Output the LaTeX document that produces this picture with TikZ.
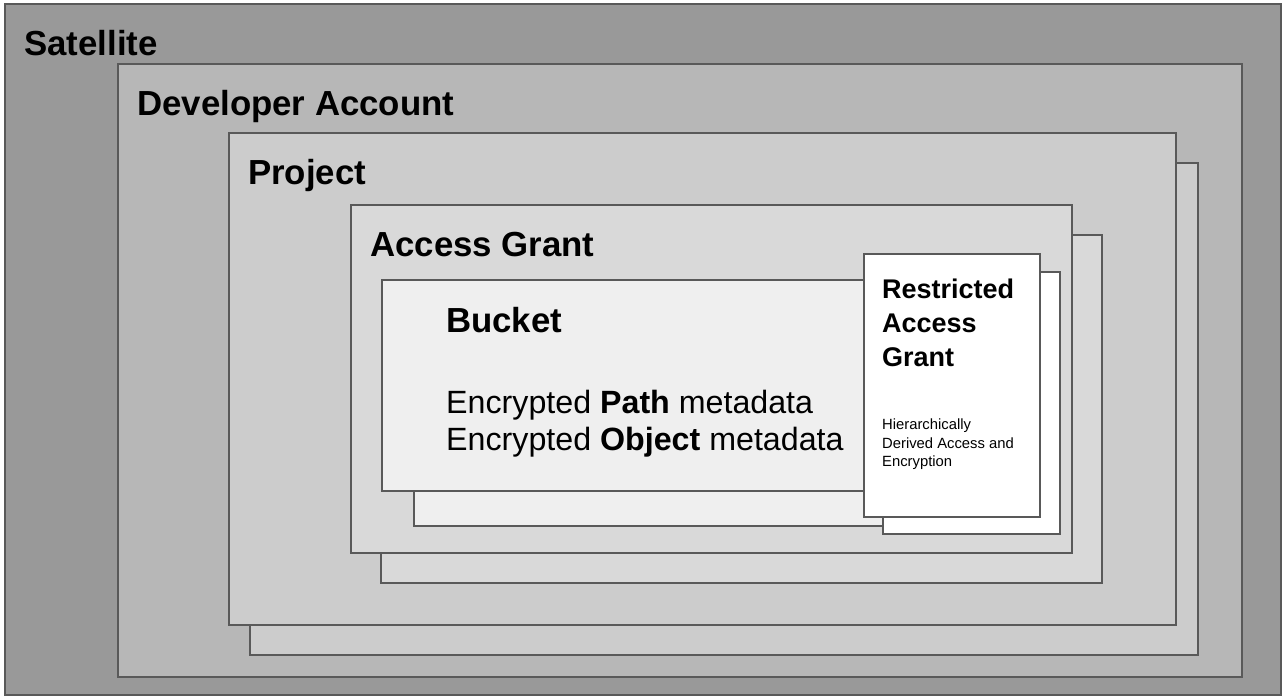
\documentclass[tikz,border=0pt]{standalone}
\usepackage{fontspec}
\setmainfont{Liberation Sans}
\usetikzlibrary{positioning}

\definecolor{satgray}{HTML}{999999}
\definecolor{devgray}{HTML}{B7B7B7}
\definecolor{projgray}{HTML}{CCCCCC}
\definecolor{grantgray}{HTML}{D9D9D9}
\definecolor{bucketgray}{HTML}{EFEFEF}
\definecolor{edgegray}{HTML}{595959}

\begin{document}
\begin{tikzpicture}[x=1pt, y=-1pt,
  layer/.style={draw=edgegray, line width=1.8pt},
  title/.style={anchor=base west, inner sep=0pt, font=\bfseries\fontsize{34.8}{40}\selectfont},
  body/.style={anchor=base west, inner sep=0pt, align=left, font=\fontsize{32.2}{37}\selectfont},
  subtitle/.style={anchor=base west, inner sep=0pt, align=left, font=\bfseries\fontsize{27}{34}\selectfont},
  note/.style={anchor=base west, inner sep=0pt, align=left, font=\fontsize{14.8}{18.5}\selectfont}]
  \useasboundingbox (0,0) rectangle (1286,700);
  \fill[white] (0,0) rectangle (1286,700);
  % Layers
  \path[layer, fill=satgray] (5,4) rectangle (1281,695);
  \path[layer, fill=devgray] (118,64) rectangle (1242,677);
  \path[layer, fill=projgray] (250,163) rectangle (1198,655);
  \path[layer, fill=projgray] (229,133) rectangle (1176,625);
  \path[layer, fill=grantgray] (381,235) rectangle (1102,583);
  \path[layer, fill=grantgray] (351,205) rectangle (1072,553);
  \path[layer, fill=bucketgray] (414,310) rectangle (890,526);
  \path[layer, fill=bucketgray] (382,280) rectangle (875,491);
  \path[layer, fill=white] (883,272) rectangle (1060,534);
  \path[layer, fill=white] (864,254) rectangle (1040,517);
  % Labels (multi-line nodes sit on their last baseline)
  \node[title] (satellite) at (24,56) {Satellite};
  \node[title] (developer) at (137,116) {Developer Account};
  \node[title] (project) at (248,185) {Project};
  \node[title] (grant) at (370,257) {Access Grant};
  \node[title] (bucket) at (446,333) {Bucket};
  \node[body] (metadata) at (446,451) {Encrypted \textbf{Path} metadata\\Encrypted \textbf{Object} metadata};
  \node[subtitle] (restricted) at (882,367) {Restricted\\Access\\Grant};
  \node[note] (derivation) at (882,467) {Hierarchically\\Derived Access and\\Encryption};
\end{tikzpicture}
\end{document}
